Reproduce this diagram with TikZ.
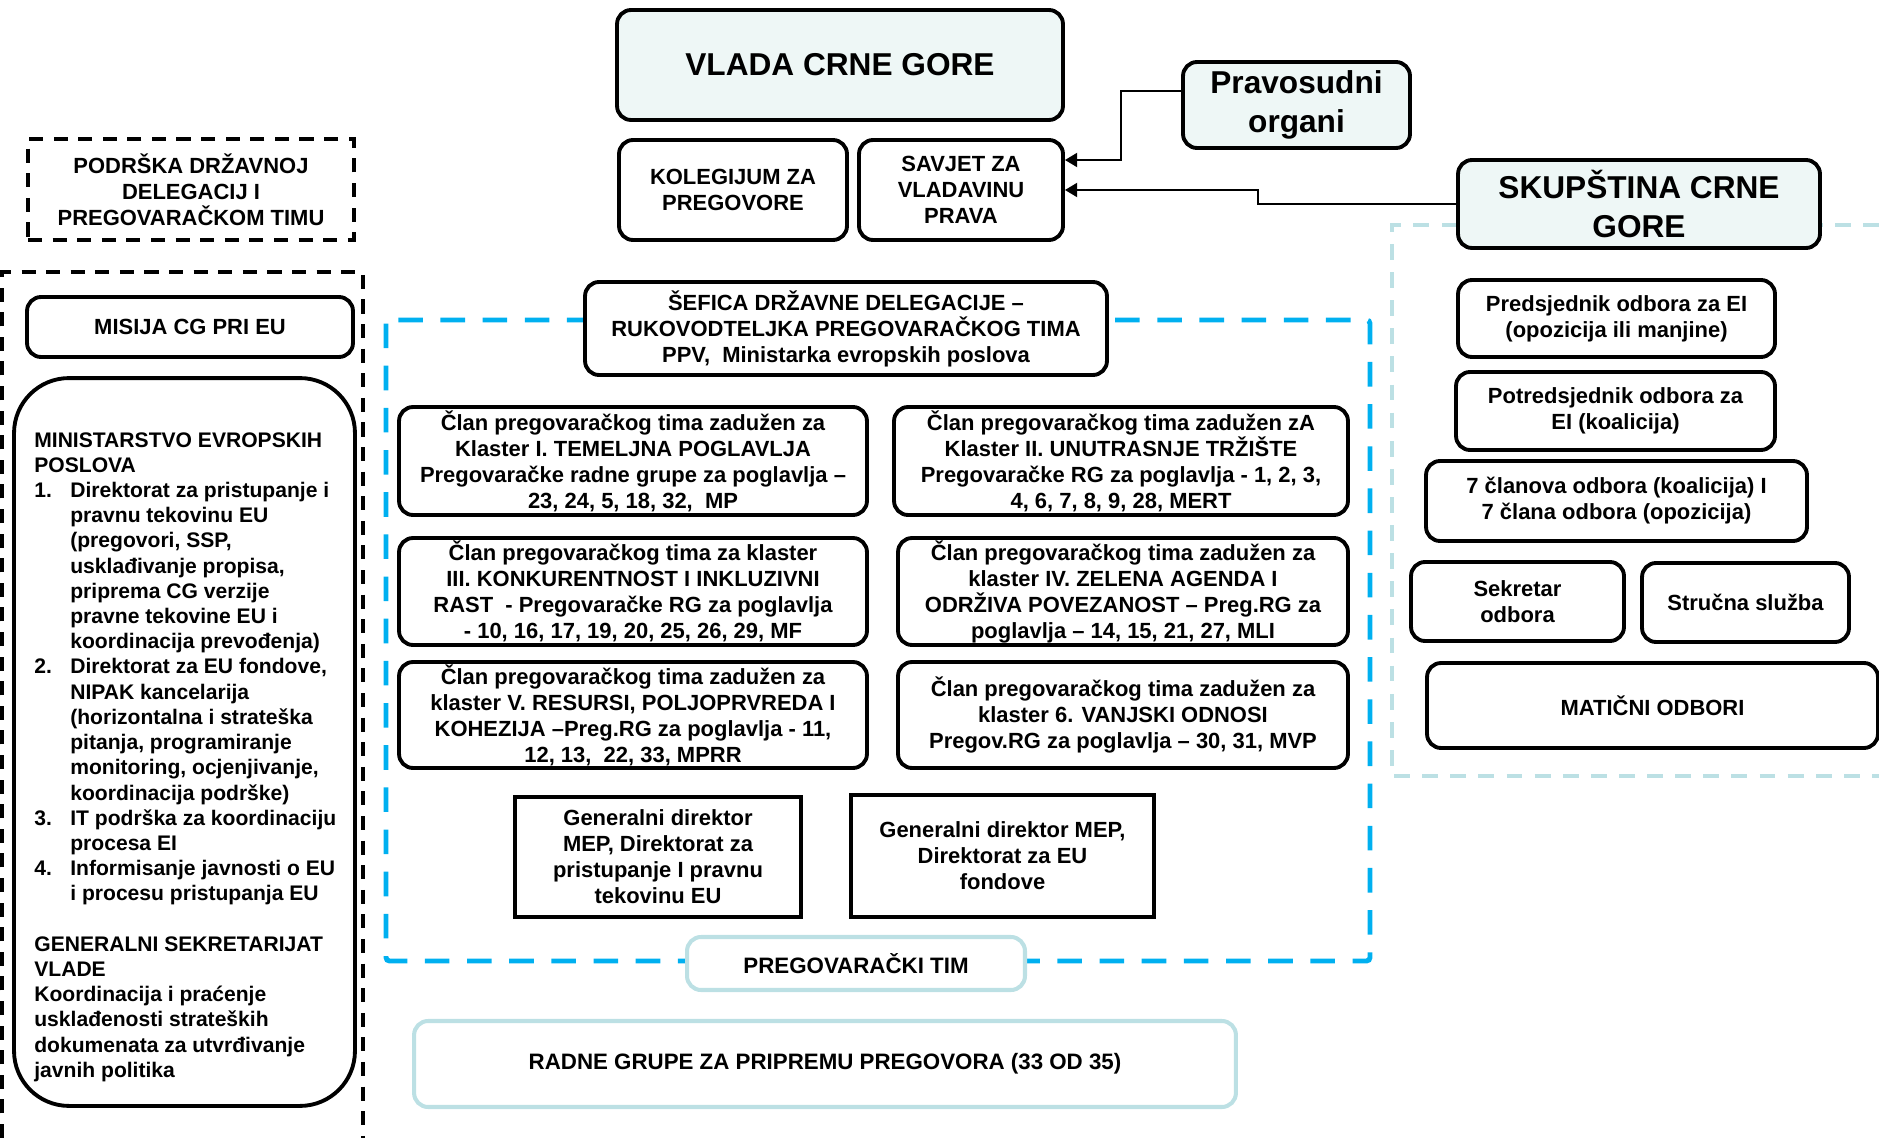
\documentclass[tikz,border=0pt]{standalone}
\usepackage{fontspec}
\setmainfont{Liberation Sans}
\usepackage{tikz}
\usetikzlibrary{arrows.meta}
\definecolor{govfill}{HTML}{EEF7F6}
\definecolor{teamblue}{HTML}{00B0F0}
\definecolor{tealline}{HTML}{BCE0E4}
\newcommand{\mepitem}[1]{\makebox[0.72cm][l]{#1}}
\tikzstyle{govbox}    = [rectangle, rounded corners=0.28cm, draw=black, line width=2.2pt, fill=govfill, font=\fontsize{18}{22}\selectfont\bfseries]
\tikzstyle{plainbox}  = [rectangle, rounded corners=0.28cm, draw=black, line width=2.2pt, fill=white]
\tikzstyle{sharpbox}  = [rectangle, draw=black, line width=2.2pt, fill=white]
\tikzstyle{tealbox}   = [rectangle, rounded corners=0.28cm, draw=tealline, line width=2.3pt, fill=white, font=\fontsize{12.7}{15}\selectfont\bfseries]
\tikzstyle{arrow}     = [line width=1.1pt, -{Triangle[length=7pt,width=8pt]}]
\tikzstyle{teamframe} = [draw=teamblue, line width=2.8pt, dash pattern=on 14pt off 10pt, rounded corners=2pt]
\tikzstyle{suppframe} = [draw=black, line width=1.9pt, dash pattern=on 8pt off 6pt]
\tikzstyle{parlframe} = [draw=tealline, line width=2pt, dash pattern=on 9pt off 7pt]
\tikzset{every node/.style={align=center, inner sep=0pt, font=\fontsize{12.5}{14.8}\selectfont\bfseries}}

\begin{document}
\begin{tikzpicture}[x=0.02cm, y=-0.02cm]
    \useasboundingbox (0,0) rectangle (1879,1138);
    % dashed frames first, boxes are drawn on top
    \draw [suppframe] (2,1138) -- (2,272) -- (363,272) -- (363,1138);
    \draw [teamframe] (386,320) rectangle (1370,961);
    \draw [parlframe] (1879,225) -- (1392,225) -- (1392,776) -- (1879,776);

    \node (vlada) at (840,65)      [govbox, minimum width=8.92cm, minimum height=2.2cm] {VLADA CRNE GORE};
    \node (kol)   at (733,190)     [plainbox, minimum width=4.56cm, minimum height=2.0cm] {KOLEGIJUM ZA\\PREGOVORE};
    \node (sav)   at (961,190)     [plainbox, minimum width=4.08cm, minimum height=2.0cm] {SAVJET ZA\\VLADAVINU\\PRAVA};
    \node (pra)   at (1296.5,105)  [govbox, minimum width=4.54cm, minimum height=1.72cm] {Pravosudni\\organi};
    \node (sku)   at (1639,204)    [govbox, minimum width=7.24cm, minimum height=1.76cm] {SKUPŠTINA CRNE\\GORE};

    \node (pod)   at (191,189.5)   [suppframe, minimum width=6.52cm, minimum height=2.02cm] {PODRŠKA DRŽAVNOJ\\DELEGACIJ I\\PREGOVARAČKOM TIMU};
    \node (mis)   at (190,327)     [plainbox, minimum width=6.52cm, minimum height=1.2cm] {MISIJA CG PRI EU};
    \node (mep)   at (184.5,742)   [plainbox, rounded corners=1.1cm, minimum width=6.82cm, minimum height=14.56cm] {};
    \node (meptxt) at (34,757) [anchor=west, align=left, font=\fontsize{12}{14.35}\selectfont\bfseries] {MINISTARSTVO EVROPSKIH\\POSLOVA\\
        \mepitem{1.}Direktorat za pristupanje i\\\mepitem{}pravnu tekovinu EU\\\mepitem{}(pregovori, SSP,\\
        \mepitem{}usklađivanje propisa,\\\mepitem{}priprema CG verzije\\\mepitem{}pravne tekovine EU i\\
        \mepitem{}koordinacija prevođenja)\\
        \mepitem{2.}Direktorat za EU fondove,\\\mepitem{}NIPAK kancelarija\\\mepitem{}(horizontalna i strateška\\
        \mepitem{}pitanja, programiranje\\\mepitem{}monitoring, ocjenjivanje,\\\mepitem{}koordinacija podrške)\\
        \mepitem{3.}IT podrška za koordinaciju\\\mepitem{}procesa EI\\
        \mepitem{4.}Informisanje javnosti o EU\\\mepitem{}i procesu pristupanja EU\\[14.35pt]
        GENERALNI SEKRETARIJAT\\VLADE\\Koordinacija i praćenje\\usklađenosti strateških\\
        dokumenata za utvrđivanje\\javnih politika};

    \node (sef)   at (846,328.5)   [plainbox, minimum width=10.44cm, minimum height=1.86cm] {ŠEFICA DRŽAVNE DELEGACIJE –\\RUKOVODTELJKA PREGOVARAČKOG TIMA\\PPV,\ \ Ministarka evropskih poslova};
    \node (k1)    at (633,461)     [plainbox, minimum width=9.36cm, minimum height=2.16cm] {Član pregovaračkog tima zadužen za\\Klaster I. TEMELJNA POGLAVLJA\\Pregovaračke radne grupe za poglavlja –\\23, 24, 5, 18, 32,\ \ MP};
    \node (k2)    at (1121,461)    [plainbox, minimum width=9.08cm, minimum height=2.16cm] {Član pregovaračkog tima zadužen zA\\Klaster II. UNUTRASNJE TRŽIŠTE\\Pregovaračke RG za poglavlja - 1, 2, 3,\\4, 6, 7, 8, 9, 28, MERT};
    \node (k3)    at (633,591.5)   [plainbox, minimum width=9.36cm, minimum height=2.14cm] {Član pregovaračkog tima za klaster\\III. KONKURENTNOST I INKLUZIVNI\\RAST\ \ - Pregovaračke RG za poglavlja\\- 10, 16, 17, 19, 20, 25, 26, 29, MF};
    \node (k4)    at (1123,591.5)  [plainbox, minimum width=9.0cm, minimum height=2.14cm] {Član pregovaračkog tima zadužen za\\klaster IV. ZELENA AGENDA I\\ODRŽIVA POVEZANOST – Preg.RG za\\poglavlja – 14, 15, 21, 27, MLI};
    \node (k5)    at (633,715)     [plainbox, minimum width=9.36cm, minimum height=2.12cm] {Član pregovaračkog tima zadužen za\\klaster V. RESURSI, POLJOPRVREDA I\\KOHEZIJA –Preg.RG za poglavlja - 11,\\12, 13,\ \ 22, 33, MPRR};
    \node (k6)    at (1123,715)    [plainbox, minimum width=9.0cm, minimum height=2.12cm] {Član pregovaračkog tima zadužen za\\klaster 6. VANJSKI ODNOSI\\Pregov.RG za poglavlja – 30, 31, MVP};
    \node (gd1)   at (658,857)     [sharpbox, minimum width=5.72cm, minimum height=2.4cm] {Generalni direktor\\MEP, Direktorat za\\pristupanje I pravnu\\tekovinu EU};
    \node (gd2)   at (1002.5,856)  [sharpbox, minimum width=6.06cm, minimum height=2.44cm] {Generalni direktor MEP,\\Direktorat za EU\\fondove};
    \node (tim)   at (856,963.5)   [tealbox, minimum width=6.76cm, minimum height=1.06cm] {PREGOVARAČKI TIM};
    \node (rg)    at (825,1064)    [tealbox, minimum width=16.44cm, minimum height=1.72cm] {RADNE GRUPE ZA PRIPREMU PREGOVORA (33 OD 35)};

    \node (pred)  at (1616.5,318.5) [plainbox, minimum width=6.34cm, minimum height=1.54cm] {Predsjednik odbora za EI\\(opozicija ili manjine)};
    \node (potp)  at (1615.5,411)   [plainbox, minimum width=6.38cm, minimum height=1.56cm] {Potredsjednik odbora za\\EI (koalicija)};
    \node (clan)  at (1616.5,501)   [plainbox, minimum width=7.62cm, minimum height=1.6cm] {7 članova odbora (koalicija) I\\7 člana odbora (opozicija)};
    \node (sek)   at (1517.5,601.5) [plainbox, minimum width=4.26cm, minimum height=1.58cm] {Sekretar\\odbora};
    \node (str)   at (1745.5,602.5) [plainbox, minimum width=4.14cm, minimum height=1.58cm] {Stručna služba};
    \node (mat)   at (1652.5,705.5) [plainbox, minimum width=9.02cm, minimum height=1.7cm] {MATIČNI ODBORI};

    \draw [arrow] ([yshift=0.28cm]pra.west) -- ++(-60,0) |- ([yshift=0.6cm]sav.east);
    \draw [arrow] (sku.west) -- ++(-198,0) |- (sav.east);
\end{tikzpicture}
\end{document}
